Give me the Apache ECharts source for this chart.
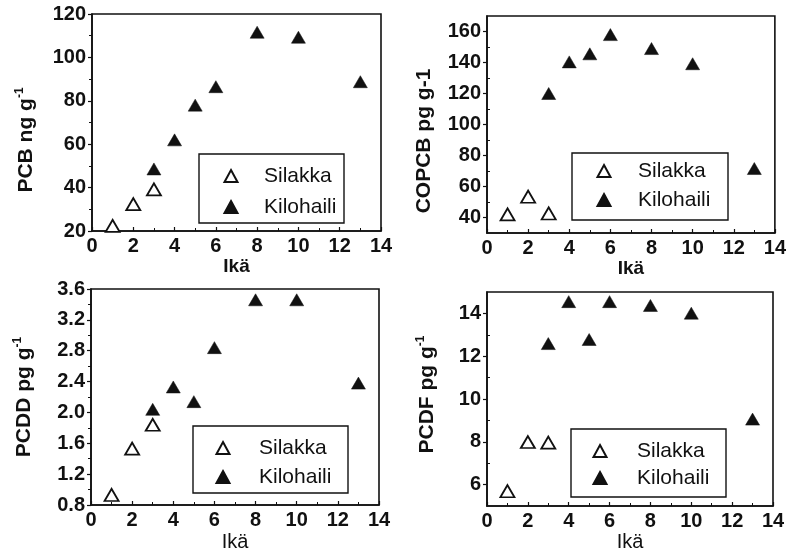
<!DOCTYPE html>
<html><head><meta charset="utf-8">
<script src="https://cdn.jsdelivr.net/npm/echarts@6/dist/echarts.min.js"></script>
<style>html,body{margin:0;padding:0;background:#fff}#c{width:789px;height:553px}</style>
</head><body><div id="c"></div>
<script>
// ---- data ----
const seriesNames = ['Silakka', 'Kilohaili'];
const ageSilakka = [1, 2, 3];
const ageKilohaili = [3, 4, 5, 6, 8, 10, 13];

const pcbSilakka = [22.4, 32.4, 39.2];
const pcbKilohaili = [48.6, 62, 78, 86.5, 111.6, 109.3, 88.8];

const copcbSilakka = [42, 53.4, 42.6];
const copcbKilohaili = [120, 140.4, 145.6, 158, 149, 139.2, 71.6];

const pcddSilakka = [0.93, 1.53, 1.84];
const pcddKilohaili = [2.04, 2.33, 2.14, 2.84, 3.46, 3.46, 2.38];

const pcdfSilakka = [5.69, 7.99, 7.96];
const pcdfKilohaili = [12.59, 14.55, 12.78, 14.55, 14.37, 14.01, 9.06];

const xTitle = 'Ikä';
const yTitles = ['PCB ng g', 'COPCB pg g-1', 'PCDD pg g', 'PCDF pg g'];
const supText = '-1';

const copcbTicks = [40, 60, 80, 100, 120, 140, 160];
const copcbMinor = [50, 70, 90, 110, 130, 150];
const pcdfTicks = [6, 8, 10, 12, 14];
const pcdfMinor = [7, 9, 11, 13];

// ---- build ----
const FONT = "'Liberation Sans', Arial, Helvetica, sans-serif";
const pairs = (xs, ys) => xs.map((x, i) => [x, ys[i]]);

const grids = [
  {left: 92, top: 14, width: 289, height: 217},
  {left: 487, top: 16, width: 289, height: 217},
  {left: 91, top: 289, width: 288, height: 216},
  {left: 487, top: 292, width: 286, height: 215}
].map(g => Object.assign(g, {show: true, borderColor: '#111', borderWidth: 1.6, backgroundColor: 'transparent'}));

function xAxis(i, gap, bold) {
  return {
    type: 'value', gridIndex: i, min: 0, max: 14, interval: 2,
    axisLine: {show: true, lineStyle: {color: '#111', width: 1.6}},
    axisTick: {show: true, inside: true, length: 4, lineStyle: {color: '#111', width: 1.2}},
    minorTick: {show: true, splitNumber: 2, length: 3, lineStyle: {color: '#111', width: 1}},
    splitLine: {show: false},
    axisLabel: {color: '#111', fontSize: 20, fontWeight: 'bold', fontFamily: FONT, margin: 5},
    name: xTitle, nameLocation: 'middle', nameGap: gap,
    nameTextStyle: {color: '#111', fontSize: bold ? 19 : 20, fontWeight: bold ? 'bold' : 'normal', fontFamily: FONT, verticalAlign: 'top'}
  };
}
const yLabel = {color: '#111', fontSize: 20, fontWeight: 'bold', fontFamily: FONT, margin: 6};
const yLine = {show: true, lineStyle: {color: '#111', width: 1.6}};
const yTick = {show: true, inside: false, length: 4, lineStyle: {color: '#111', width: 1.2}};
const yMinor = {show: true, splitNumber: 2, length: 3, lineStyle: {color: '#111', width: 1}};

function yName(text, sup, gap, padding) {
  const o = {
    nameLocation: 'middle', nameGap: gap, nameRotate: 90,
    nameTextStyle: {color: '#111', fontFamily: FONT, fontSize: 21, fontWeight: 'bold', padding: padding,
      rich: {
        m: {fontSize: 21, fontWeight: 'bold', fontFamily: FONT, color: '#111', lineHeight: 24},
        s: {fontSize: 12, fontWeight: 'bold', fontFamily: FONT, color: '#111', verticalAlign: 'top', lineHeight: 24}
      }}
  };
  o.name = sup ? '{m|' + text + '}{s|' + sup + '}' : '{m|' + text + '}';
  return o;
}

const yAxes = [
  Object.assign({type: 'value', gridIndex: 0, min: 20, max: 120, interval: 20,
    axisLine: yLine, axisTick: yTick, minorTick: yMinor, splitLine: {show: false}, axisLabel: yLabel},
    yName(yTitles[0], supText, 54, [0, 35, 0, 0])),
  Object.assign({type: 'value', gridIndex: 1, min: 30, max: 170,
    axisLine: yLine, axisTick: Object.assign({customValues: copcbTicks}, yTick), splitLine: {show: false},
    axisLabel: Object.assign({customValues: copcbTicks}, yLabel)},
    yName(yTitles[1], null, 51, [0, 33, 0, 0])),
  Object.assign({type: 'value', gridIndex: 2, min: 0.8, max: 3.6, interval: 0.4,
    axisLine: yLine, axisTick: yTick, minorTick: yMinor, splitLine: {show: false},
    axisLabel: Object.assign({formatter: v => v.toFixed(1)}, yLabel)},
    yName(yTitles[2], supText, 55, [0, 0, 0, 0])),
  Object.assign({type: 'value', gridIndex: 3, min: 5, max: 15,
    axisLine: yLine, axisTick: Object.assign({customValues: pcdfTicks}, yTick), splitLine: {show: false},
    axisLabel: Object.assign({customValues: pcdfTicks}, yLabel)},
    yName(yTitles[3], supText, 48, [0, 0, 0, 9])),
  // minor-tick overlays
  {type: 'value', gridIndex: 1, min: 30, max: 170, position: 'left', axisLine: {show: false},
    axisTick: {show: true, inside: true, length: 3, customValues: copcbMinor, lineStyle: {color: '#111', width: 1}},
    axisLabel: {show: false}, splitLine: {show: false}},
  {type: 'value', gridIndex: 3, min: 5, max: 15, position: 'left', axisLine: {show: false},
    axisTick: {show: true, inside: true, length: 3, customValues: pcdfMinor, lineStyle: {color: '#111', width: 1}},
    axisLabel: {show: false}, splitLine: {show: false}}
];

const openTri = {color: '#fff', borderColor: '#111', borderWidth: 1.8, opacity: 1};
const fullTri = {color: '#111', borderColor: '#111', borderWidth: 0.5, opacity: 1};
const sets = [
  [pcbSilakka, pcbKilohaili], [copcbSilakka, copcbKilohaili],
  [pcddSilakka, pcddKilohaili], [pcdfSilakka, pcdfKilohaili]
];
const series = [];
sets.forEach((s, i) => {
  series.push({name: seriesNames[0], type: 'scatter', xAxisIndex: i, yAxisIndex: i, symbol: 'triangle',
    symbolSize: [14, 12], itemStyle: openTri, data: pairs(ageSilakka, s[0]), z: 3});
  series.push({name: seriesNames[1], type: 'scatter', xAxisIndex: i, yAxisIndex: i, symbol: 'triangle',
    symbolSize: [14, 12], itemStyle: fullTri, data: pairs(ageKilohaili, s[1]), z: 3});
});

function legend(left, top, pad, gap, textPad, tw) {
  return {
    data: seriesNames, orient: 'vertical', left: left, top: top, padding: pad, itemGap: gap,
    itemWidth: 13, itemHeight: 12,
    borderColor: '#111', borderWidth: 1.4, borderRadius: 0, backgroundColor: '#fff',
    selectedMode: false,
    textStyle: {color: '#111', fontSize: 21, fontFamily: FONT, lineHeight: 21, width: tw, padding: [0, 0, 0, textPad]}
  };
}
const legends = [
  legend(199, 154, [11.5, 2, 5.5, 24.5], 10, 21.5, 78),
  legend(572, 153, [7.5, 2, 9.5, 24.5], 8, 22.5, 88),
  legend(193, 426, [11.5, 2, 5.5, 22.5], 8, 24.5, 87),
  legend(571, 429, [11.5, 2, 8.5, 21.5], 6, 25.5, 87)
];

const chart = echarts.init(document.getElementById('c'), null, {renderer: 'canvas'});
chart.setOption({
  animation: false,
  backgroundColor: '#fff',
  grid: grids,
  xAxis: [xAxis(0, 22, true), xAxis(1, 24, true), xAxis(2, 27, false), xAxis(3, 26, false)],
  yAxis: yAxes,
  legend: legends,
  series: series
});
</script></body></html>
